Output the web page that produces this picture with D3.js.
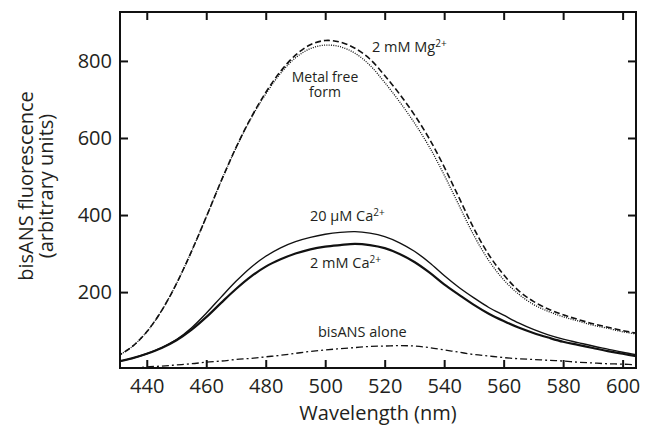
<!DOCTYPE html>
<html>
<head>
<meta charset="utf-8">
<script src="https://cdn.jsdelivr.net/npm/d3@7"></script>
<style>
  body { margin: 0; background: #fff; }
  svg text { font-family: "Open Sans", "Noto Sans", sans-serif; fill: #231f20; }
</style>
</head>
<body>
<script>
// wavelengths (nm), shared by all spectra
var wavelengths = [430, 435, 440, 445, 450, 455, 460, 465, 470, 475, 480, 485, 490, 495, 500, 505, 510, 515,
  520, 525, 530, 535, 540, 545, 550, 555, 560, 565, 570, 575, 580, 585, 590, 595, 600, 605];

var mg2mM = [33, 58, 97, 152, 222, 305, 395, 488, 575, 652, 718, 773, 815, 842, 853, 849, 833, 805,
  762, 714, 660, 598, 525, 445, 365, 297, 245, 204, 176, 156, 141, 129, 118, 109, 100, 93];

var metalFree = [33, 58, 97, 152, 222, 305, 395, 488, 574, 650, 714, 768, 808, 832, 841, 837, 820, 789,
  744, 694, 639, 577, 504, 425, 347, 282, 232, 195, 168, 150, 136, 125, 114, 106, 97, 91];

var ca20uM = [19, 28, 40, 56, 77, 107, 145, 187, 228, 264, 293, 315, 331, 342, 350, 355, 357, 353,
  344, 328, 306, 277, 243, 212, 185, 160, 140, 120, 103, 89, 78, 69, 60, 52, 44, 37];

var ca2mM = [19, 28, 40, 55, 75, 102, 135, 172, 208, 240, 266, 285, 300, 311, 318, 322, 325, 322,
  314, 299, 278, 251, 220, 193, 167, 144, 125, 108, 94, 82, 71, 63, 55, 47, 40, 33];

var bisAlone = [0, 2, 6, 8, 11, 14, 18, 21, 25, 28, 32, 36, 41, 46, 50, 53, 56, 59,
  60, 61, 60, 56, 50, 44, 38, 34, 30, 27, 25, 23, 21, 18, 16, 14, 13, 11];

var xTicks = [440, 460, 480, 500, 520, 540, 560, 580, 600];
var yTicks = [200, 400, 600, 800];

function drawChart() {
  var W = 653, H = 426;
  var pLeft = 120, pRight = 636, pTop = 12, pBottom = 368;

  var svg = d3.select("body").append("svg")
    .attr("width", W)
    .attr("height", H);

  var x = d3.scaleLinear().domain([431, 604.5]).range([pLeft, pRight]);
  var y = d3.scaleLinear().domain([3, 927]).range([pBottom, pTop]);

  svg.append("clipPath").attr("id", "plot")
    .append("rect")
    .attr("x", pLeft).attr("y", pTop)
    .attr("width", pRight - pLeft).attr("height", pBottom - pTop);

  var line = d3.line()
    .x(function(d) { return x(d[0]); })
    .y(function(d) { return y(d[1]); })
    .curve(d3.curveCatmullRom);

  var series = [
    { values: bisAlone, width: 1.3, dash: "7,3,2,3" },
    { values: metalFree, width: 1.3, dash: "1,1.3" },
    { values: mg2mM, width: 1.6, dash: "6,3" },
    { values: ca20uM, width: 1.4, dash: null },
    { values: ca2mM, width: 2.2, dash: null }
  ];

  var g = svg.append("g").attr("clip-path", "url(#plot)");
  series.forEach(function(s) {
    var pts = wavelengths.map(function(w, i) { return [w, s.values[i]]; });
    g.append("path")
      .attr("d", line(pts))
      .attr("fill", "none")
      .attr("stroke", "#111")
      .attr("stroke-width", s.width)
      .attr("stroke-dasharray", s.dash);
  });

  // axes, ticks pointing inwards on every side
  function styleAxis(sel) {
    sel.select(".domain").remove();
    sel.selectAll(".tick line").attr("stroke", "#111").attr("stroke-width", 2);
    sel.selectAll(".tick text").attr("font-size", 20).attr("fill", "#231f20")
      .attr("font-family", "'Open Sans', 'Noto Sans', sans-serif");
  }

  svg.append("g").attr("transform", "translate(0," + pBottom + ")")
    .call(d3.axisBottom(x).tickValues(xTicks).tickSize(-8).tickPadding(11))
    .call(styleAxis);
  svg.append("g").attr("transform", "translate(0," + pTop + ")")
    .call(d3.axisTop(x).tickValues(xTicks).tickSize(-8).tickFormat(""))
    .call(styleAxis);
  svg.append("g").attr("transform", "translate(" + pLeft + ",0)")
    .call(d3.axisLeft(y).tickValues(yTicks).tickSize(-8).tickPadding(8))
    .call(styleAxis);
  svg.append("g").attr("transform", "translate(" + pRight + ",0)")
    .call(d3.axisRight(y).tickValues(yTicks).tickSize(-8).tickFormat(""))
    .call(styleAxis);

  svg.append("rect")
    .attr("x", pLeft).attr("y", pTop)
    .attr("width", pRight - pLeft).attr("height", pBottom - pTop)
    .attr("fill", "none").attr("stroke", "#111").attr("stroke-width", 2);

  // axis titles
  svg.append("text")
    .attr("x", (pLeft + pRight) / 2).attr("y", 420)
    .attr("text-anchor", "middle").attr("font-size", 20)
    .text("Wavelength (nm)");

  var yl = svg.append("text")
    .attr("transform", "translate(33,186) rotate(-90)")
    .attr("text-anchor", "middle").attr("font-size", 20);
  yl.append("tspan").attr("x", 0).attr("y", 0).text("bisANS fluorescence");
  yl.append("tspan").attr("x", 0).attr("y", 20).text("(arbitrary units)");

  // curve labels
  function label(xp, yp, main, sup, anchor, size) {
    var t = svg.append("text")
      .attr("x", xp).attr("y", yp)
      .attr("font-size", size || 14.5)
      .attr("text-anchor", anchor || "start");
    t.append("tspan").text(main);
    if (sup) {
      t.append("tspan").attr("dy", -5).attr("font-size", 10).text(sup);
    }
  }

  label(372, 52, "2 mM Mg", "2+");
  label(325, 82, "Metal free", null, "middle", 14);
  label(325, 97, "form", null, "middle", 14);
  label(310, 221, "20 \u03bcM Ca", "2+");
  label(310, 268, "2 mM Ca", "2+");
  label(318, 337, "bisANS alone");
}

document.addEventListener("DOMContentLoaded", function() {
  drawChart();
});
</script>
</body>
</html>
